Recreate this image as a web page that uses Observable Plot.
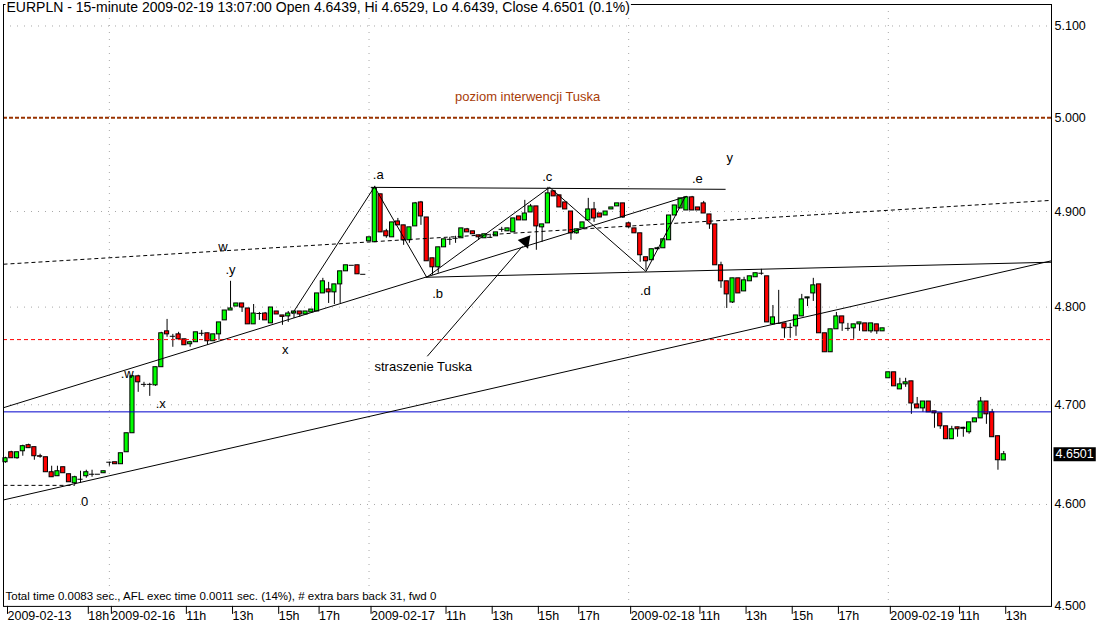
<!DOCTYPE html>
<html><head><meta charset="utf-8">
<script src="https://cdn.jsdelivr.net/npm/d3@7"></script>
<script src="https://cdn.jsdelivr.net/npm/@observablehq/plot@0.6"></script>
<style>
body{margin:0;background:#fff;}
#chart svg{display:block;}
</style></head><body><div id="chart"></div>
<script>
const title = "EURPLN - 15-minute 2009-02-19 13:07:00 Open 4.6439, Hi 4.6529, Lo 4.6439, Close 4.6501 (0.1%)";
const footer = "Total time 0.0083 sec., AFL exec time 0.0011 sec. (14%), # extra bars back 31, fwd 0";

const open = [4.6421,4.6521,4.6461,4.6531,4.6592,4.6572,4.6481,4.6471,4.6321,4.6281,4.6371,4.6301,4.6211,4.6251,4.6281,4.6301,4.6301,4.6311,4.6421,4.6421,
4.6401,4.6521,4.6712,4.7289,4.7207,4.7207,4.7197,4.7382,4.7750,4.7699,4.7719,4.7668,4.7617,4.7638,4.7730,4.7730,4.7648,4.7719,4.7863,4.7965,
4.8006,4.8038,4.7986,4.7822,4.7934,4.7934,4.7832,4.7955,4.7914,4.7904,4.7934,4.7955,4.7924,4.7945,4.7955,4.8142,4.8184,4.8153,4.8236,4.8372,
4.8435,4.8435,4.8341,4.8686,4.8676,4.9182,4.8791,4.8728,4.8895,4.8854,4.8697,4.8843,4.9096,4.8937,4.8508,4.8414,4.8623,4.8707,4.8718,4.8718,
4.8812,4.8791,4.8749,4.8718,4.8728,4.8739,4.8812,4.8791,4.8780,4.8948,4.8906,4.8990,4.9054,4.8833,4.8875,4.9214,4.9171,4.9096,4.9000,4.8770,
4.8822,4.8906,4.9022,4.8979,4.8958,4.9022,4.9054,4.9086,4.8875,4.8822,4.8770,4.8519,4.8488,4.8603,4.8613,4.8697,4.8958,4.9032,4.9011,4.9150,
4.9043,4.9086,4.8969,4.8864,4.8435,4.8268,4.8048,4.8299,4.8163,4.8268,4.8310,4.8352,4.8320,4.7822,4.7832,4.7832,4.7791,4.7801,4.7904,4.8090,
4.8142,4.8236,4.7730,4.7535,4.7771,4.7904,4.7781,4.7781,4.7822,4.7832,4.7750,4.7822,4.7750,4.7269,4.7330,4.7156,4.7207,4.7238,4.7003,4.6963,
4.7033,4.6933,4.6913,4.6782,4.6652,4.6772,4.6767,4.6722,4.6822,4.6862,4.7033,4.6923,4.6682,4.6439];
const high = [4.6471,4.6531,4.6521,4.6592,4.6602,4.6572,4.6501,4.6471,4.6381,4.6381,4.6371,4.6301,4.6281,4.6331,4.6341,4.6341,4.6301,4.6331,4.6421,4.6421,
4.6511,4.6712,4.7300,4.7300,4.7228,4.7218,4.7382,4.7740,4.7873,4.7719,4.7740,4.7668,4.7648,4.7740,4.7760,4.7730,4.7719,4.7842,4.7965,4.8268,
4.8038,4.8038,4.7986,4.8027,4.7945,4.7945,4.7996,4.7955,4.7914,4.7955,4.7955,4.7955,4.7955,4.7975,4.8142,4.8299,4.8257,4.8236,4.8372,4.8435,
4.8435,4.8435,4.8341,4.8728,4.9267,4.9182,4.8812,4.8885,4.8927,4.8854,4.8833,4.9096,4.9107,4.8937,4.8508,4.8623,4.8707,4.8728,4.8739,4.8822,
4.8822,4.8791,4.8749,4.8760,4.8760,4.8780,4.8833,4.8822,4.8927,4.8948,4.9118,4.9075,4.9054,4.8864,4.9256,4.9224,4.9171,4.9096,4.9000,4.8812,
4.8885,4.9139,4.9096,4.8979,4.9000,4.9043,4.9086,4.9086,4.8885,4.8822,4.8770,4.8519,4.8603,4.8623,4.8707,4.8958,4.9064,4.9139,4.9160,4.9160,
4.9043,4.9107,4.8969,4.8864,4.8467,4.8268,4.8299,4.8299,4.8310,4.8320,4.8352,4.8393,4.8320,4.8017,4.8174,4.7832,4.7832,4.7914,4.8132,4.8101,
4.8299,4.8236,4.7730,4.7771,4.7945,4.7904,4.7832,4.7822,4.7842,4.7832,4.7832,4.7822,4.7781,4.7330,4.7330,4.7269,4.7269,4.7238,4.7074,4.7033,
4.7033,4.6933,4.6913,4.6782,4.6782,4.6772,4.6772,4.6822,4.6862,4.7074,4.7033,4.6953,4.6682,4.6529];
const low = [4.6411,4.6461,4.6451,4.6481,4.6562,4.6441,4.6461,4.6321,4.6271,4.6281,4.6311,4.6221,4.6191,4.6211,4.6261,4.6271,4.6301,4.6311,4.6381,4.6401,
4.6401,4.6521,4.6712,4.7126,4.7177,4.7085,4.7187,4.7382,4.7689,4.7586,4.7668,4.7607,4.7586,4.7638,4.7699,4.7607,4.7648,4.7658,4.7863,4.7965,
4.8006,4.7945,4.7822,4.7822,4.7863,4.7863,4.7832,4.7924,4.7812,4.7842,4.7883,4.7894,4.7924,4.7945,4.7955,4.8142,4.8038,4.8027,4.8038,4.8372,
4.8435,4.8341,4.8341,4.8686,4.8676,4.8780,4.8718,4.8728,4.8854,4.8644,4.8665,4.8843,4.8854,4.8477,4.8331,4.8352,4.8623,4.8644,4.8665,4.8718,
4.8780,4.8760,4.8697,4.8718,4.8718,4.8739,4.8780,4.8791,4.8780,4.8906,4.8906,4.8990,4.8592,4.8676,4.8875,4.9160,4.9043,4.9022,4.8697,4.8760,
4.8822,4.8906,4.8885,4.8937,4.8958,4.9022,4.9054,4.8927,4.8822,4.8770,4.8467,4.8383,4.8488,4.8592,4.8613,4.8697,4.8958,4.9032,4.9011,4.9011,
4.9011,4.8979,4.8812,4.8435,4.8195,4.7986,4.8038,4.8142,4.8163,4.8268,4.8310,4.8331,4.7842,4.7822,4.7822,4.7678,4.7678,4.7699,4.7904,4.8006,
4.8059,4.7730,4.7535,4.7535,4.7771,4.7750,4.7750,4.7668,4.7750,4.7750,4.7730,4.7719,4.7750,4.7269,4.7187,4.7156,4.7177,4.6903,4.6963,4.6923,
4.6923,4.6762,4.6752,4.6652,4.6652,4.6672,4.6672,4.6702,4.6822,4.6862,4.6802,4.6672,4.6341,4.6439];
const close = [4.6461,4.6461,4.6521,4.6582,4.6562,4.6481,4.6476,4.6321,4.6271,4.6331,4.6311,4.6221,4.6271,4.6251,4.6321,4.6301,4.6301,4.6331,4.6421,4.6401,
4.6511,4.6712,4.7289,4.7228,4.7207,4.7207,4.7382,4.7730,4.7719,4.7699,4.7668,4.7607,4.7638,4.7740,4.7730,4.7648,4.7719,4.7842,4.7965,4.7986,
4.8038,4.7996,4.7822,4.7934,4.7934,4.7863,4.7996,4.7924,4.7899,4.7934,4.7955,4.7924,4.7955,4.7975,4.8142,4.8268,4.8153,4.8236,4.8372,4.8435,
4.8435,4.8341,4.8341,4.8728,4.9246,4.8780,4.8739,4.8885,4.8854,4.8697,4.8833,4.9086,4.8948,4.8477,4.8414,4.8623,4.8707,4.8707,4.8718,4.8822,
4.8780,4.8760,4.8728,4.8760,4.8728,4.8780,4.8812,4.8822,4.8927,4.8906,4.8979,4.9054,4.8843,4.8864,4.9192,4.9160,4.9043,4.9022,4.8770,4.8812,
4.8885,4.9022,4.8927,4.8937,4.9000,4.9043,4.9086,4.8937,4.8833,4.8770,4.8540,4.8477,4.8603,4.8613,4.8707,4.8958,4.9064,4.9139,4.9150,4.9011,
4.9011,4.8979,4.8864,4.8435,4.8268,4.8132,4.8299,4.8142,4.8278,4.8320,4.8352,4.8352,4.7842,4.7894,4.7832,4.7781,4.7791,4.7914,4.8080,4.8101,
4.8226,4.7730,4.7535,4.7771,4.7904,4.7832,4.7781,4.7822,4.7842,4.7750,4.7832,4.7750,4.7781,4.7330,4.7187,4.7207,4.7228,4.7013,4.6963,4.7033,
4.6923,4.6913,4.6782,4.6652,4.6752,4.6752,4.6757,4.6822,4.6862,4.7033,4.6903,4.6672,4.6441,4.6501];

const tickBars = [0,14,18,31,39,47,54,63,76,84,92,99,108,120,128,136,144,153,165,173];
const tickLabels = ["2009-02-13","18h","2009-02-16","11h","13h","15h","17h","2009-02-17","11h","13h","15h","17h","2009-02-18","11h","13h","15h","17h","2009-02-19","11h","13h"];
const dayStarts = [18,63,108,153];
const priceTicks = [4.5,4.6,4.7,4.8,4.9,5.0,5.1];
const gridPrices = [4.6,4.7,4.8,4.9,5.1];

// drawn studies: [bar1, price1, bar2, price2]
const solidLines = [
  [-0.347,4.6045,181.28,4.8482],
  [-0.347,4.6970,118.0,4.9158],
  [49.7,4.7931,64,4.9267],
  [64,4.9256,73.0,4.8310],
  [73.0,4.8310,94.3,4.9256],
  [94.3,4.9256,111,4.8370],
  [111,4.8370,117.8,4.9155],
  [63.3,4.9256,124.8,4.9235],
  [72.8,4.8310,181.28,4.8467]
];
const dashedLines = [
  [-0.347,4.8446,181.28,4.9118],
  [-0.347,4.6190,12,4.6190]
];
const arrowLine = [[73.1,4.7494,89.6,4.8634]];
const arrowHead = [[90.1,4.8686]];
const tuskLevel = [5.0];
const redLevel = [4.7665];
const blueLevel = [4.6928];

const waveText = ["0",".x",".w","w",".y","x",".a",".b",".c",".d",".e","y"];
const waveBar = [13.7,26.9,21.1,37.7,39.0,48.5,64.6,74.9,93.9,110.9,119.9,125.5];
const wavePrice = [4.6030,4.7013,4.7310,4.8629,4.8383,4.7555,4.9384,4.8142,4.9363,4.8174,4.9342,4.9566];
const notes = ["straszenie Tuska","poziom interwencji Tuska"];
const noteBar = [72.4,90.5];
const notePrice = [4.7382,5.0227];

const bars = d3.range(open.length).map(i => ({i, o: open[i], h: high[i], l: low[i], c: close[i]}));
const waves = waveText.map((t,k) => ({t, x: waveBar[k], y: wavePrice[k]}));
const noteRows = notes.map((t,k) => ({t, x: noteBar[k], y: notePrice[k]}));
const font = "'Liberation Sans', Arial, sans-serif";

const chart = Plot.plot({
  width: 1112, height: 621,
  marginLeft: 3, marginRight: 61, marginTop: 4, marginBottom: 15.1,
  style: {fontFamily: font, fontSize: "12.5px", background: "white", color: "black", overflow: "visible"},
  x: {type: "linear", domain: [-0.347, 181.28], axis: null},
  y: {type: "log", domain: [4.5, 5.1237], axis: null},
  color: {type: "identity"},
  marks: [
    Plot.ruleY(gridPrices, {stroke: "#a8a8a8", strokeDasharray: "1,6"}),
    Plot.ruleX(dayStarts, {stroke: "#a8a8a8", strokeDasharray: "1,6"}),
    Plot.ruleX(bars, {x: "i", y1: "l", y2: "h", stroke: "black", strokeWidth: 1}),
    Plot.rect(bars.filter(d => d.o !== d.c), {
      x1: d => d.i - 0.36, x2: d => d.i + 0.36, y1: "o", y2: "c",
      fill: d => d.c > d.o ? "#00ff00" : "#ff0000", stroke: "black", strokeWidth: 1
    }),
    Plot.ruleY(bars.filter(d => d.o === d.c), {y: "c", x1: d => d.i - 0.45, x2: d => d.i + 0.45, stroke: "black"}),
    Plot.ruleY(tuskLevel, {stroke: "#993300", strokeWidth: 2, strokeDasharray: "4,2"}),
    Plot.ruleY(redLevel, {stroke: "#ff0000", strokeDasharray: "4,3"}),
    Plot.ruleY(blueLevel, {stroke: "#0000cc"}),
    Plot.link(solidLines, {x1: d => d[0], y1: d => d[1], x2: d => d[2], y2: d => d[3], stroke: "black"}),
    Plot.link(dashedLines, {x1: d => d[0], y1: d => d[1], x2: d => d[2], y2: d => d[3], stroke: "black", strokeDasharray: "4,3"}),
    Plot.link(arrowLine, {x1: d => d[0], y1: d => d[1], x2: d => d[2], y2: d => d[3], stroke: "black"}),
    Plot.dot(arrowHead, {x: d => d[0], y: d => d[1], symbol: "triangle", r: 5, fill: "black", rotate: 40}),
    Plot.text(waves, {x: "x", y: "y", text: "t", fontSize: 13, fill: "black"}),
    Plot.text(noteRows, {x: "x", y: "y", text: "t", fontSize: 13, fill: (d, k) => k === 1 ? "#a83c08" : "black"}),
    Plot.axisY({anchor: "right", ticks: priceTicks, tickFormat: d3.format(".3f"), tickSize: 0, tickPadding: 3, fontSize: 12.5, label: null}),
    Plot.axisX({anchor: "bottom", ticks: tickBars, tickFormat: d => tickLabels[tickBars.indexOf(d)], tickSize: 8, tickPadding: -3.5, textAnchor: "start", dx: 2, fontSize: 12.5, label: null}),
    Plot.frame({stroke: "black"}),
    Plot.text([title], {frameAnchor: "top-left", textAnchor: "start", lineAnchor: "top", dx: 3, dy: -2, fontSize: 14, className: "ttl"}),
    Plot.text([footer], {frameAnchor: "bottom-left", textAnchor: "start", lineAnchor: "top", dx: 2, dy: -15, fontSize: 11.5}),
    Plot.text([close[close.length - 1]], {frameAnchor: "right", y: d => d, text: d => d.toFixed(4), textAnchor: "start", dx: 4, fill: "white", fontSize: 12.5, className: "lastpx"})
  ]
});
document.getElementById("chart").appendChild(chart);

function addBackground(cls, fill, padX, padY) {
  const t = chart.querySelector("." + cls + " text");
  if (!t) return;
  const b = t.getBBox();
  const r = document.createElementNS("http://www.w3.org/2000/svg", "rect");
  r.setAttribute("x", b.x - padX);
  r.setAttribute("y", b.y - padY);
  r.setAttribute("width", b.width + 2 * padX);
  r.setAttribute("height", b.height + 2 * padY);
  r.setAttribute("fill", fill);
  const tr = t.getAttribute("transform");
  if (tr) r.setAttribute("transform", tr);
  t.parentNode.insertBefore(r, t);
}
addBackground("lastpx", "black", 2, 0);
addBackground("ttl", "white", 1, 0);
</script></body></html>
